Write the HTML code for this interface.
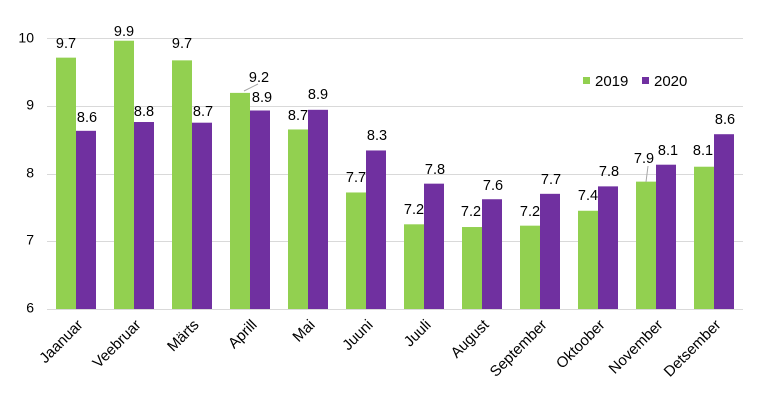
<!DOCTYPE html>
<html><head><meta charset="utf-8"><style>
html,body{margin:0;padding:0;background:#fff;}
svg{display:block;font-family:"Liberation Sans",Arial,sans-serif;}
</style></head><body>
<svg width="757" height="409" viewBox="0 0 757 409">
<g stroke="#d9d9d9" stroke-width="1">
<line x1="47" x2="743" y1="38.5" y2="38.5"/>
<line x1="47" x2="743" y1="106.5" y2="106.5"/>
<line x1="47" x2="743" y1="174.5" y2="174.5"/>
<line x1="47" x2="743" y1="241.5" y2="241.5"/>
<line x1="47" x2="743" y1="309.5" y2="309.5"/>
</g>
<g font-size="14" fill="#000" text-anchor="end" dominant-baseline="middle">
<text x="34" y="39">10</text><text x="34" y="106">9</text><text x="34" y="174">8</text><text x="34" y="241">7</text><text x="34" y="309">6</text>
</g>
<g id="bars"></g>
<g font-size="14.5" fill="#000" text-anchor="middle" dominant-baseline="middle" id="lbl"></g>
<g font-size="15" fill="#000" text-anchor="end" id="xl"></g>
<line x1="648" y1="166" x2="646" y2="182" stroke="#a6a6a6"/>
<line x1="244" y1="91" x2="258" y2="84" stroke="#a6a6a6"/>
<rect x="583" y="77" width="7" height="7" fill="#92d050"/>
<text x="595" y="86" font-size="15">2019</text>
<rect x="642" y="77" width="7" height="7" fill="#7030a0"/>
<text x="654" y="86" font-size="15">2020</text>
<script>
var g=[9.71,9.96,9.67,9.19,8.65,7.72,7.25,7.21,7.23,7.45,7.88,8.10];
var p=[8.63,8.76,8.75,8.93,8.94,8.34,7.85,7.62,7.70,7.81,8.13,8.58];
var m=["Jaanuar","Veebruar","Märts","Aprill","Mai","Juuni","Juuli","August","September","Oktoober","November","Detsember"];
var L=[[66,44,"9.7",87,118,"8.6"],[124,32,"9.9",144,112,"8.8"],[182,44,"9.7",203,112,"8.7"],[259,78,"9.2",262,98,"8.9"],[298,116,"8.7",318,95,"8.9"],[356,178,"7.7",377,136,"8.3"],[414,210,"7.2",435,170,"7.8"],[471,212,"7.2",493,186,"7.6"],[530,212,"7.2",551,180,"7.7"],[588,196,"7.4",609,172,"7.8"],[644,159,"7.9",668,151,"8.1"],[703,151,"8.1",725,120,"8.6"]];
var ns="http://www.w3.org/2000/svg",b=document.getElementById("bars"),l=document.getElementById("lbl"),x=document.getElementById("xl");
function y(v){return 309-(v-6)*67.75;}
for(var i=0;i<12;i++){var c=47+29+58*i;
[[g[i],c-20,"#92d050"],[p[i],c,"#7030a0"]].forEach(function(a){var r=document.createElementNS(ns,"rect");r.setAttribute("x",a[1]);r.setAttribute("y",y(a[0]));r.setAttribute("width",20);r.setAttribute("height",309-y(a[0]));r.setAttribute("fill",a[2]);b.appendChild(r);});
[[L[i][0],L[i][1],L[i][2]],[L[i][3],L[i][4],L[i][5]]].forEach(function(a){var t=document.createElementNS(ns,"text");t.setAttribute("x",a[0]);t.setAttribute("y",a[1]);t.textContent=a[2];l.appendChild(t);});
var t=document.createElementNS(ns,"text");t.setAttribute("transform","translate("+(c+4)+",322) rotate(-45)");t.setAttribute("dy","0.35em");t.textContent=m[i];x.appendChild(t);}
</script>
</svg>
</body></html>
